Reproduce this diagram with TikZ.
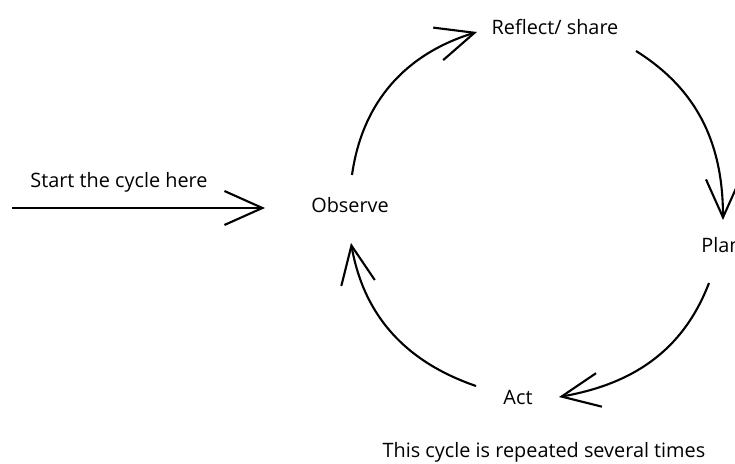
\documentclass[tikz,border=0pt]{standalone}
\usepackage{fontspec}
\setmainfont{Open Sans}
\usepackage{tikz}
\usetikzlibrary{positioning,calc,arrows.meta}

\tikzset{
    lbl/.style={font=\fontsize{11.3}{13}\selectfont, inner sep=0pt, anchor=base},
    cyc/.style={line width=1.2pt, -{Straight Barb[length=0.76cm, width=0.68cm, line width=1.2pt]}}
}

\begin{document}
\begin{tikzpicture}[x=0.02cm, y=0.02cm]
    \useasboundingbox (0,0) rectangle (735,464);

    % Start
    \node[lbl] (start) at (119,276) {Start the cycle here};
    \coordinate (in) at (12,256);

    % Stages of the cycle
    \node[lbl] (obs) at (350,251) {Observe};
    \node[lbl] (refl) at (555,429) {Reflect/ share};
    \node[lbl, anchor=base west] (plan) at (701,211) {Plan};
    \node[lbl] (act) at (518,59) {Act};

    % Note
    \node[lbl] (note) at (544,7) {This cycle is repeated several times};

    % Arrows
    \draw[cyc] (in) -- ([shift={(-85,5)}]obs.base);
    \draw[cyc] ([shift={(2,38)}]obs.base) to[out=82, in=197] ([shift={(-78,3)}]refl.base);
    \draw[cyc] ([shift={(81,-16)}]refl.base) to[out=-32, in=90] ([shift={(22,33)}]plan.base west);
    \draw[cyc] ([shift={(8,-30)}]plan.base west) to[out=-111, in=10] ([shift={(41,8)}]act.base);
    \draw[cyc] ([shift={(-42,19)}]act.base) to[out=161, in=-80] ([shift={(1,-30)}]obs.base);
\end{tikzpicture}
\end{document}
